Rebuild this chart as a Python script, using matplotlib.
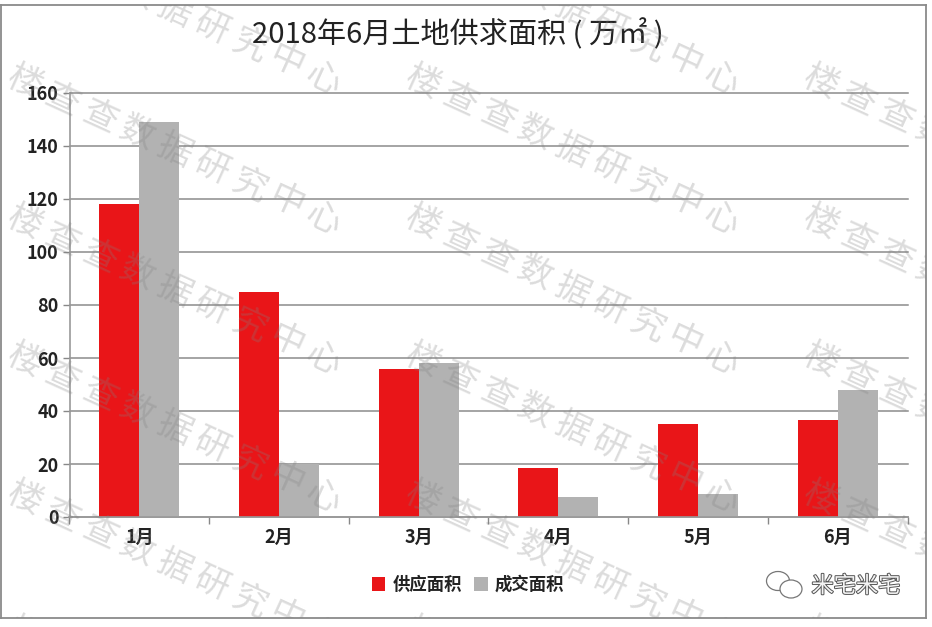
import matplotlib
matplotlib.use('Agg')
import matplotlib.pyplot as plt
import matplotlib.patheffects as pe
from matplotlib.patches import Ellipse
import numpy as np

plt.rcParams['font.family'] = ['Noto Sans CJK SC', 'DejaVu Sans']

months = ['1月', '2月', '3月', '4月', '5月', '6月']
supply = [118, 85, 56, 18.5, 35, 36.5]
deal = [149, 20, 58, 7.5, 8.5, 48]
yticks = [0, 20, 40, 60, 80, 100, 120, 140, 160]
title = '2018年6月土地供求面积 ( 万㎡ )'
series_names = ['供应面积', '成交面积']
watermark = '楼查查数据研究中心'
brand = '米宅米宅'

W, H = 932, 627
fig = plt.figure(figsize=(W / 100, H / 100), dpi=100, facecolor='white')

def box(l, t, r, b):
    return [l / W, 1 - b / H, (r - l) / W, (b - t) / H]

ax = fig.add_axes(box(69.5, 93, 907.5, 517))
x = np.arange(len(months))
bw = 0.286
ax.bar(x - bw / 2, supply, bw, color='#E91518', label=series_names[0], zorder=3)
ax.bar(x + bw / 2, deal, bw, color='#B2B2B2', label=series_names[1], zorder=3)
ax.set_xlim(-0.5, 5.5)
ax.set_ylim(0, 160)
ax.set_yticks(yticks)
ax.set_xticks(x)
ax.set_xticklabels(months, fontsize=13, fontweight='bold', color='#222222')
ax.set_xticks(np.arange(-0.5, 6), minor=True)
ax.tick_params(axis='x', which='major', length=0, pad=8)
ax.tick_params(axis='x', which='minor', length=5, width=1, color='#888888')
ax.tick_params(axis='y', length=5, width=1, color='#888888', pad=3)
for t in ax.get_yticklabels():
    t.set_fontsize(13)
    t.set_fontweight('bold')
    t.set_color('#222222')
ax.yaxis.grid(True, color='#8C8C8C', lw=1.1, zorder=1, clip_on=False)
ax.set_axisbelow(True)
for s in ['top', 'right']:
    ax.spines[s].set_visible(False)
for s in ['left', 'bottom']:
    ax.spines[s].set_color('#999999')
    ax.spines[s].set_linewidth(1.2)
ax.spines['bottom'].set_zorder(5)

fig.text(458 / W, 1 - 35 / H, title, fontsize=21, color='#222222', ha='center', va='center')

leg = fig.legend(loc='center', bbox_to_anchor=(468 / W, 1 - 585 / H), ncol=2, frameon=False,
                 prop={'size': 12.5, 'weight': 'bold'}, handlelength=0.8, handleheight=0.8,
                 handletextpad=0.4, columnspacing=0.7, labelcolor='#222222')

# Picture frame and watermark overlay, in pixel coordinates of the embedded screenshot
ov = fig.add_axes(box(1, 5, 926, 618), facecolor='none', zorder=10)
ov.set_xlim(1, 926)
ov.set_ylim(618, 5)
ov.set_xticks([])
ov.set_yticks([])
for s in ov.spines.values():
    s.set_color('#8A8A8A')
    s.set_linewidth(1.3)

angle = 24.5
step = 41.0
dx, dy = step * np.cos(np.radians(angle)), step * np.sin(np.radians(angle))
for cx in [25, 423, 821]:
    for cy in [-57, 83, 223, 361, 499, 635]:
        for i, ch in enumerate(watermark):
            px, py = cx + i * dx, cy + i * dy
            if px > 945 or py < -12 or py > 637:
                continue
            ov.text(px, py, ch, rotation=-angle, rotation_mode='anchor',
                    ha='center', va='center', fontsize=25, color='#808080', alpha=0.28,
                    clip_on=True)

ov.text(856, 586, brand, fontsize=16, color='#F4F4F4', ha='center', va='center',
        path_effects=[pe.withStroke(linewidth=1.4, foreground='#555555')])
ov.add_patch(Ellipse((778, 581), 23, 19, fill=True, fc='white', ec='#777777', lw=0.9))
ov.add_patch(Ellipse((791, 589), 22, 18, fill=True, fc='white', ec='#777777', lw=0.9))

fig.savefig('out.png', dpi=100, facecolor='white')
